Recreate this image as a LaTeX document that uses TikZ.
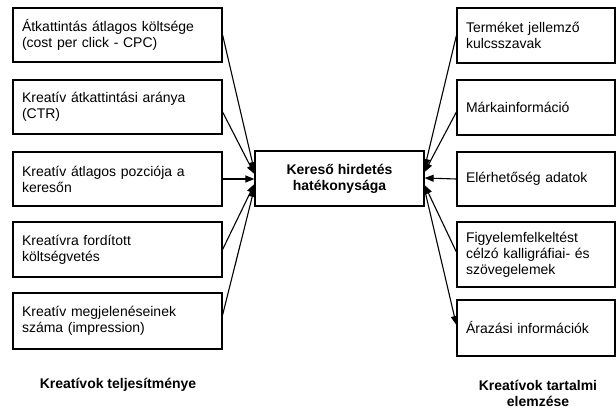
\documentclass[tikz,border=0pt]{standalone}
\usepackage{fontspec}
\setmainfont{Liberation Sans}
\usetikzlibrary{arrows.meta}
\begin{document}
\begin{tikzpicture}[x=1pt,y=1pt,
  box/.style={draw, line width=1.2pt, inner xsep=9pt, inner ysep=0pt, align=left,
    font=\fontsize{14pt}{16pt}\selectfont},
  leftbox/.style={box, text width=191pt},
  rightbox/.style={box, text width=140pt},
  caption/.style={align=center, font=\fontsize{14pt}{16pt}\selectfont\bfseries},
  link/.style={line width=1.1pt, -{Triangle[length=9pt,width=7pt]}}]
\useasboundingbox (0,0) rectangle (616,409);
\node[box, align=center, minimum width=169pt, minimum height=55pt,
  font=\fontsize{14pt}{16pt}\selectfont\bfseries] (hatas) at (339.5,230.5)
{Kereső hirdetés\\hatékonysága};
\node[leftbox, minimum height=54pt] (cpc) at (117.5,374)
{Átkattintás átlagos költsége\\(cost per click - CPC)};
\node[leftbox, minimum height=54pt] (ctr) at (117.5,302)
{Kreatív átkattintási aránya\\(CTR)};
\node[leftbox, minimum height=54pt] (pozicio) at (117.5,230)
{Kreatív átlagos pozciója a\\keresőn};
\node[leftbox, minimum height=55pt] (koltseg) at (117.5,159.5)
{Kreatívra fordított\\költségvetés};
\node[leftbox, minimum height=56pt] (impresszio) at (117.5,88)
{Kreatív megjelenéseinek\\száma (impression)};
\node[rightbox, minimum height=55pt] (kulcsszo) at (536,373.5)
{Terméket jellemző\\kulcsszavak};
\node[rightbox, minimum height=55pt] (marka) at (536,301.5)
{Márkainformáció};
\node[rightbox, minimum height=54pt] (elerheto) at (536,230)
{Elérhetőség adatok};
\node[rightbox, minimum height=65pt] (figyelem) at (536,154.5)
{Figyelemfelkeltést\\célzó kalligráfiai- és\\szövegelemek};
\node[rightbox, minimum height=56pt] (ar) at (536,81)
{Árazási információk};
\node[caption] (teljesitmeny) at (118,24) {Kreatívok teljesítménye};
\node[caption] (tartalom) at (538,15.5) {Kreatívok tartalmi\\elemzése};
\draw[link] (cpc.east) -- ([yshift=7.5pt]hatas.west);
\draw[link] ([yshift=-5pt]ctr.east) -- ([yshift=4.5pt]hatas.west);
\draw[link] (pozicio.east) -- ([yshift=-0.5pt]hatas.west);
\draw[link] (koltseg.east) -- ([yshift=-5.5pt]hatas.west);
\draw[link] ([yshift=6pt]impresszio.east) -- ([yshift=-9.5pt]hatas.west);
\draw[link] (kulcsszo.west) -- ([yshift=10.5pt]hatas.east);
\draw[link] ([yshift=-4.5pt]marka.west) -- ([yshift=6.5pt]hatas.east);
\draw[link] (elerheto.west) -- ([yshift=0.5pt]hatas.east);
\draw[link] ([yshift=2.5pt]figyelem.west) -- ([yshift=-6.5pt]hatas.east);
\draw[link] ([yshift=-11pt]hatas.east) -- ([yshift=3pt]ar.west);
\end{tikzpicture}
\end{document}
